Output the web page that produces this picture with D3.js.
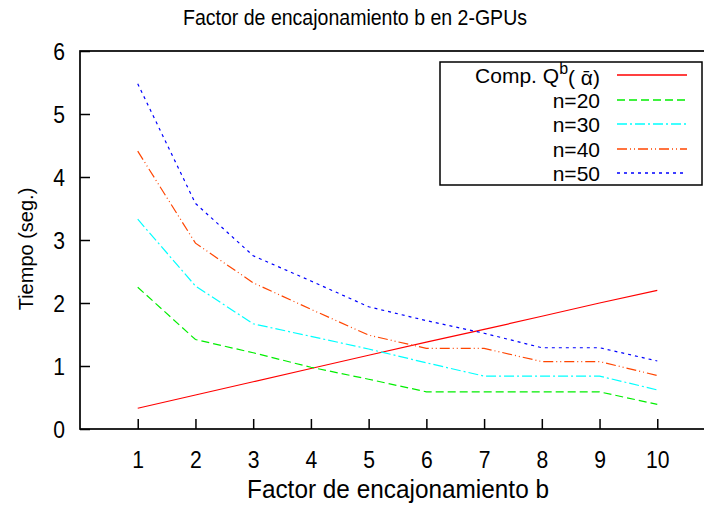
<!DOCTYPE html>
<html>
<head>
<meta charset="utf-8">
<script src="https://cdn.jsdelivr.net/npm/d3@7"></script>
<style>
    body { margin: 0; background: #fff; }
    text { font-family: "Liberation Sans", Arial, sans-serif; fill: #000; }
</style>
</head>
<body>
<script>
// Factor de encajonamiento b (x) and timings in seconds per series
var factors = [1, 2, 3, 4, 5, 6, 7, 8, 9, 10];
var compQ = [0.33, 0.54, 0.75, 0.96, 1.17, 1.38, 1.58, 1.79, 2.0, 2.2];
var n20 = [2.25, 1.42, 1.21, 0.98, 0.79, 0.59, 0.59, 0.59, 0.59, 0.39];
var n30 = [3.33, 2.27, 1.67, 1.47, 1.27, 1.05, 0.84, 0.84, 0.84, 0.62];
var n40 = [4.41, 2.95, 2.32, 1.9, 1.49, 1.28, 1.28, 1.07, 1.07, 0.85];
var n50 = [5.48, 3.58, 2.75, 2.35, 1.94, 1.72, 1.52, 1.29, 1.29, 1.08];
var yTicks = [0, 1, 2, 3, 4, 5, 6];
var seriesNames = ["n=20", "n=30", "n=40", "n=50"];

// plot area; right edge of the frame falls outside the window, as in the original
var margin = {top: 51, right: -11, bottom: 79, left: 80},
    width = 704 - margin.left - margin.right,
    height = 508 - margin.top - margin.bottom;

var svg = d3.select("body").append("svg")
    .attr("width", 704)
    .attr("height", 508);

var g = svg.append("g")
    .attr("transform", "translate(" + margin.left + "," + margin.top + ")");

var xScale = d3.scaleLinear().domain([0, 11]).range([0, width]);
var yScale = d3.scaleLinear().domain([0, 6]).range([height, 0]);

// series styles (gnuplot-like line types)
var series = [
    {name: "comp", values: compQ, color: "#ff0000", dash: null},
    {name: seriesNames[0], values: n20, color: "#00ee00", dash: "8,4"},
    {name: seriesNames[1], values: n30, color: "#00ffff", dash: "10,3,2,3"},
    {name: seriesNames[2], values: n40, color: "#ff4500", dash: "10,3,1,3,1,3"},
    {name: seriesNames[3], values: n50, color: "#0000ff", dash: "3,4"}
];

// axes with inward ticks
var xAxis = d3.axisBottom(xScale).tickValues(factors).tickSize(-10)
    .tickPadding(22).tickFormat(d3.format("d"));
var yAxis = d3.axisLeft(yScale).tickValues(yTicks).tickSize(-10)
    .tickPadding(17).tickFormat(d3.format("d"));

g.append("g")
    .attr("class", "x axis")
    .attr("transform", "translate(0," + height + ")")
    .call(xAxis)
    .call(function (s) { s.select(".domain").remove(); })
    .selectAll("text")
    .attr("font-size", "24px")
    .attr("transform", "scale(0.88,1)");

g.append("g")
    .attr("class", "y axis")
    .call(yAxis)
    .call(function (s) { s.select(".domain").remove(); })
    .selectAll("text")
    .attr("dy", "0.36em")
    .attr("font-size", "24px")
    .attr("transform", "scale(0.88,1)");

g.selectAll(".tick line").attr("stroke", "#000").attr("stroke-width", 1.5);

// frame
g.append("rect")
    .attr("width", width)
    .attr("height", height)
    .attr("fill", "none")
    .attr("stroke", "#000")
    .attr("stroke-width", 1.7);

// lines
var line = d3.line()
    .x(function (d, i) { return xScale(factors[i]); })
    .y(function (d) { return yScale(d); });

g.selectAll(".series")
    .data(series)
    .enter()
    .append("path")
    .attr("class", "series")
    .attr("d", function (d) { return line(d.values); })
    .attr("fill", "none")
    .attr("stroke", function (d) { return d.color; })
    .attr("stroke-width", 1.2)
    .attr("stroke-dasharray", function (d) { return d.dash; });

// legend
var legend = svg.append("g").attr("transform", "translate(440,62)");
legend.append("rect")
    .attr("width", 262)
    .attr("height", 123)
    .attr("fill", "#fff")
    .attr("stroke", "#000")
    .attr("stroke-width", 1.5);

var rows = legend.selectAll(".row")
    .data(series)
    .enter()
    .append("g")
    .attr("class", "row")
    .attr("transform", function (d, i) {
        return "translate(0," + Math.round(13 + i * 24.5) + ")";
    });

rows.append("line")
    .attr("x1", 177).attr("x2", 247)
    .attr("stroke", function (d) { return d.color; })
    .attr("stroke-width", 1.4)
    .attr("stroke-dasharray", function (d) { return d.dash; });

rows.append("text")
    .attr("x", 160)
    .attr("dy", "0.36em")
    .attr("font-size", "21px")
    .attr("text-anchor", "end")
    .each(function (d) {
        var t = d3.select(this);
        if (d.name === "comp") {
            t.append("tspan").text("Comp. Q");
            t.append("tspan").attr("dy", "-0.55em").attr("font-size", "16px").text("b");
            t.append("tspan").attr("dy", "0.55em").text("(\u00a0\u03b1\u0304)");
        } else {
            t.text(d.name);
        }
    });

// titles
svg.append("text")
    .attr("x", 355).attr("y", 25)
    .attr("text-anchor", "middle")
    .attr("font-size", "22px")
    .attr("textLength", 344)
    .attr("lengthAdjust", "spacingAndGlyphs")
    .text("Factor de encajonamiento b en 2-GPUs");

svg.append("text")
    .attr("x", 398).attr("y", 498)
    .attr("text-anchor", "middle")
    .attr("font-size", "26px")
    .attr("textLength", 302)
    .attr("lengthAdjust", "spacingAndGlyphs")
    .text("Factor de encajonamiento b");

svg.append("text")
    .attr("transform", "rotate(-90)")
    .attr("x", -249).attr("y", 33)
    .attr("text-anchor", "middle")
    .attr("font-size", "20px")
    .text("Tiempo (seg.)");
</script>
</body>
</html>
